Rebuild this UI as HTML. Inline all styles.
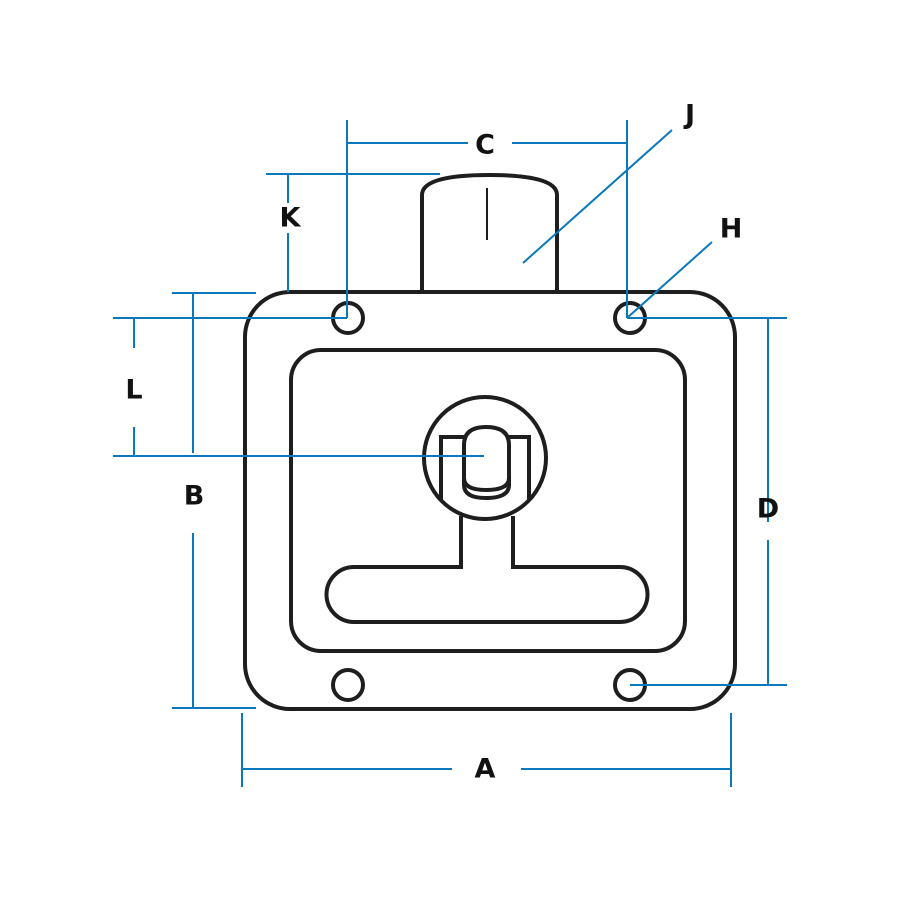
<!DOCTYPE html><html><head><style>body{margin:0;background:#fff}svg{display:block}text{font-family:"DejaVu Sans","Liberation Sans",sans-serif;font-weight:bold;font-size:27px;fill:#111;text-anchor:middle;dominant-baseline:central}</style></head><body>
<svg width="900" height="900" viewBox="0 0 900 900">
<g fill="none" stroke="#1e1e1e" stroke-width="4">
<path d="M422 292 V195 Q422 175 489 175 Q557 175 557 195 V292"/>
<line x1="487" y1="188" x2="487" y2="240" stroke-width="2"/>
<rect x="245" y="292" width="490" height="417" rx="45"/>
<rect x="291" y="350" width="394" height="301" rx="30"/>
<circle cx="348" cy="318" r="15"/><circle cx="630" cy="318" r="15"/>
<circle cx="348" cy="685" r="15"/><circle cx="630" cy="685" r="15"/>
<circle cx="485" cy="458" r="61"/>
<path d="M441 500 V437 H464 M529 500 V437 H507"/>
<path d="M464 485 V445 Q464 427 486 427 Q509 427 509 445 V485"/>
<path d="M464 485 Q464 498 486 498 Q509 498 509 485 M464 478 Q464 490 486 490 Q509 490 509 478"/>
<path d="M461 516 V567 H354 A27.5 27.5 0 0 0 354 622 H620 A27.5 27.5 0 0 0 620 567 H513 V516"/>
</g>
<g stroke="#0a78bd" stroke-width="2" fill="none">
<path d="M347 143 H468 M512 143 H627 M347 120 V318 M627 120 V318"/>
<path d="M672 130 L523 263 M712 242 L627 318"/>
<path d="M266 174 H440 M288 174 V203 M288 233 V292 M172 293 H256"/>
<path d="M113 318 H347 M627 318 H787"/>
<path d="M134 318 V348 M134 427 V456 M113 456 H484"/>
<path d="M193 293 V453 M193 533 V708 M172 708 H256"/>
<path d="M768 318 V522 M768 540 V685 M630 685 H787"/>
<path d="M242 769 H452 M521 769 H731 M242 713 V787 M731 713 V787"/>
</g>
<text x="485" y="145">C</text><text x="690" y="115">J</text><text x="290" y="218">K</text>
<text x="731" y="229">H</text><text x="134" y="390">L</text><text x="194" y="496">B</text>
<text x="768" y="509">D</text><text x="485" y="769">A</text>
</svg></body></html>
